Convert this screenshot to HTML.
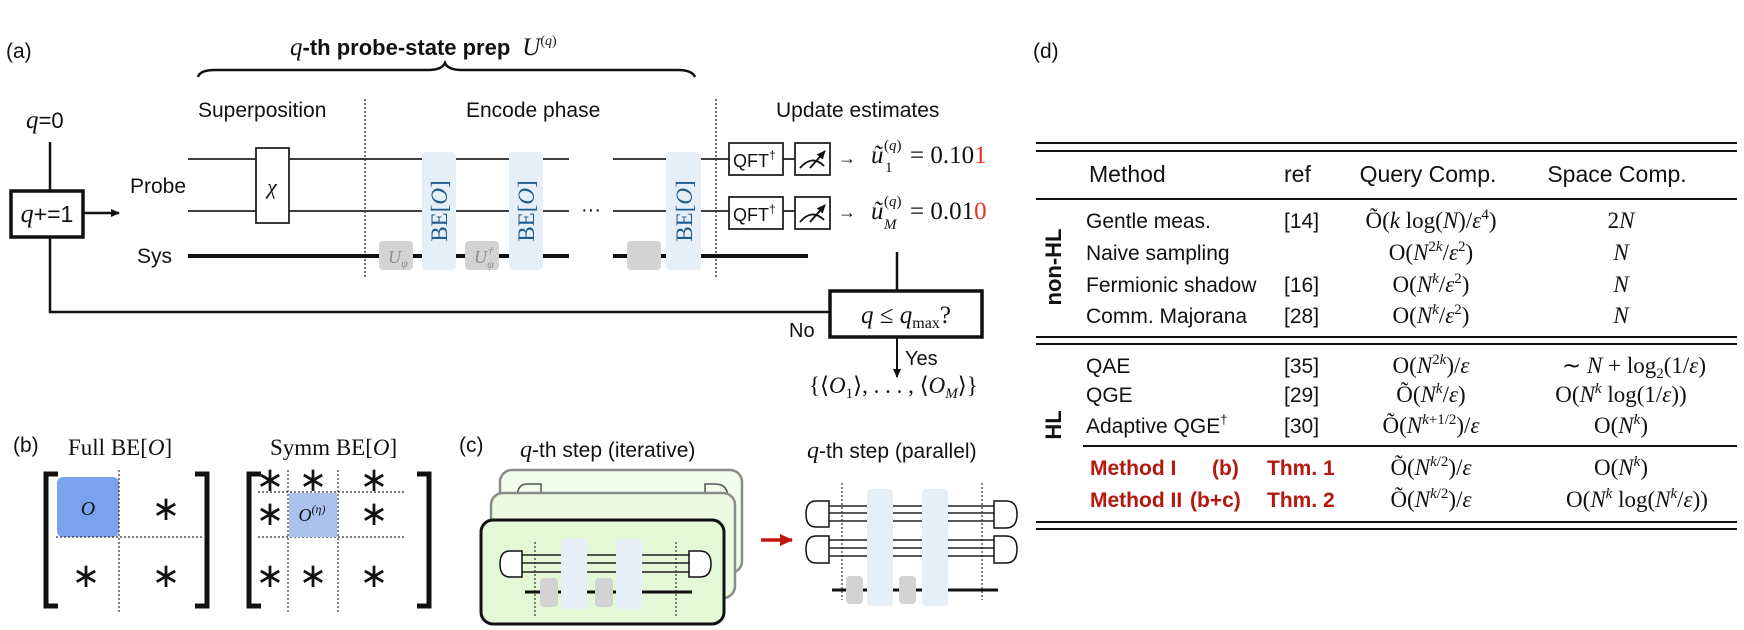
<!DOCTYPE html>
<html><head><meta charset="utf-8"><style>
html,body{margin:0;padding:0;background:#fff;}
svg{display:block;}
text{font-family:"Liberation Sans",sans-serif;fill:#111;}
.m{font-family:"Liberation Serif",serif;}
.i{font-style:italic;}
</style></head><body>
<svg width="1744" height="630" viewBox="0 0 1744 630" xmlns="http://www.w3.org/2000/svg">
<defs>
<marker id="ah" markerWidth="10" markerHeight="10" refX="8" refY="5" orient="auto" markerUnits="userSpaceOnUse"><path d="M0,1 L9,5 L0,9 Z" fill="#111"/></marker>
<marker id="ahr" markerWidth="14" markerHeight="12" refX="12" refY="6" orient="auto" markerUnits="userSpaceOnUse"><path d="M0,0 L13,6 L0,12 Z" fill="#c0190c"/></marker>
</defs>

<!-- ===== (a) ===== -->
<text x="6" y="58" font-size="21">(a)</text>
<text x="290" y="55" font-size="22"><tspan class="m i" font-size="25">q</tspan><tspan font-weight="bold">-th probe-state prep</tspan><tspan class="m i" font-size="25" dx="12">U</tspan><tspan class="m" font-size="14" dy="-10">(</tspan><tspan class="m i" font-size="14">q</tspan><tspan class="m" font-size="14">)</tspan></text>
<path d="M198,77 Q200,70 215,70 L428,70 Q442,70 445,63 Q448,70 462,70 L678,70 Q692,70 695,77" fill="none" stroke="#111" stroke-width="2.5"/>

<text x="198" y="117" font-size="21">Superposition</text>
<text x="466" y="117" font-size="21">Encode phase</text>
<text x="776" y="117" font-size="21">Update estimates</text>

<line x1="365" y1="99" x2="365" y2="277" stroke="#222" stroke-width="1.3" stroke-dasharray="2,2"/>
<line x1="716" y1="99" x2="716" y2="277" stroke="#222" stroke-width="1.3" stroke-dasharray="2,2"/>

<text x="26" y="128" font-size="22"><tspan class="m i" font-size="25">q</tspan>=0</text>
<line x1="50" y1="142" x2="50" y2="191" stroke="#111" stroke-width="2.5"/>
<rect x="11" y="191" width="72" height="46" fill="#fff" stroke="#111" stroke-width="3.5"/>
<text x="47" y="222" font-size="23" text-anchor="middle"><tspan class="m i" font-size="26">q</tspan>+=1</text>
<line x1="83" y1="213" x2="119" y2="213" stroke="#111" stroke-width="2.5" marker-end="url(#ah)"/>
<polyline points="50,237 50,312 830,312" fill="none" stroke="#111" stroke-width="2.5"/>

<text x="130" y="193" font-size="21">Probe</text>
<text x="137" y="263" font-size="21">Sys</text>

<g stroke="#222" stroke-width="1.8">
<line x1="188" y1="159" x2="569" y2="159"/><line x1="613" y1="159" x2="729" y2="159"/>
<line x1="188" y1="211" x2="569" y2="211"/><line x1="613" y1="211" x2="729" y2="211"/>
<line x1="783" y1="159" x2="795" y2="159"/><line x1="783" y1="211" x2="795" y2="211"/>
</g>
<g stroke="#111" stroke-width="4">
<line x1="188" y1="256" x2="569" y2="256"/><line x1="613" y1="256" x2="808" y2="256"/>
</g>
<text x="591" y="216" font-size="20" text-anchor="middle">···</text>

<rect x="256" y="148" width="33" height="75" fill="#fff" stroke="#222" stroke-width="1.8"/>
<text x="272" y="194" class="m i" font-size="22" text-anchor="middle">χ</text>

<g fill="#e6eef8">
<rect x="422" y="152" width="34" height="118" rx="4"/>
<rect x="509" y="152" width="34" height="118" rx="4"/>
<rect x="666" y="152" width="35" height="118" rx="4"/>
</g>
<g fill="#d3d3d3">
<rect x="379" y="241" width="34" height="29" rx="4"/>
<rect x="465" y="241" width="34" height="29" rx="4"/>
<rect x="627" y="241" width="34" height="29" rx="4"/>
</g>
<text x="388" y="263" class="m i" font-size="18" style="fill:#8a8a8a">U<tspan font-size="11" dy="4">ψ</tspan></text>
<text x="474" y="263" class="m i" font-size="18" style="fill:#8a8a8a">U<tspan font-size="11" dy="5">ψ</tspan><tspan font-size="11" dx="-6" dy="-14">†</tspan></text>
<text transform="translate(447,211) rotate(-90)" text-anchor="middle" class="m" font-size="23" style="fill:#1f5b8e">BE[<tspan class="i">O</tspan>]</text>
<text transform="translate(534,211) rotate(-90)" text-anchor="middle" class="m" font-size="23" style="fill:#1f5b8e">BE[<tspan class="i">O</tspan>]</text>
<text transform="translate(692,211) rotate(-90)" text-anchor="middle" class="m" font-size="23" style="fill:#1f5b8e">BE[<tspan class="i">O</tspan>]</text>

<g fill="#fff" stroke="#222" stroke-width="1.8">
<rect x="729" y="143" width="54" height="32"/><rect x="729" y="197" width="54" height="32"/>
<rect x="795" y="143" width="35" height="32"/><rect x="795" y="197" width="35" height="32"/>
</g>
<text x="733" y="167" font-size="18">QFT<tspan font-size="12" dy="-8">†</tspan></text>
<text x="733" y="221" font-size="18">QFT<tspan font-size="12" dy="-8">†</tspan></text>
<g fill="none" stroke="#111" stroke-width="1.8">
<path d="M800,168 Q812,154 824,166"/><line x1="810" y1="168" x2="825" y2="151" marker-end="url(#ah)"/>
<path d="M800,222 Q812,208 824,220"/><line x1="810" y1="222" x2="825" y2="205" marker-end="url(#ah)"/>
</g>
<text x="838" y="164" font-size="18">→</text>
<text x="838" y="218" font-size="18">→</text>
<text x="871" y="163" class="m i" font-size="25">ũ</text>
<text x="884" y="150" class="m" font-size="15">(<tspan class="i">q</tspan>)</text>
<text x="885" y="172" class="m" font-size="15">1</text>
<text x="910" y="163" class="m" font-size="25">= 0.10<tspan style="fill:#e8321e">1</tspan></text>
<text x="871" y="219" class="m i" font-size="25">ũ</text>
<text x="884" y="206" class="m" font-size="15">(<tspan class="i">q</tspan>)</text>
<text x="884" y="229" class="m i" font-size="15">M</text>
<text x="910" y="219" class="m" font-size="25">= 0.01<tspan style="fill:#e8321e">0</tspan></text>

<line x1="897" y1="252" x2="897" y2="291" stroke="#111" stroke-width="2.5"/>
<rect x="830" y="291" width="152" height="46" fill="#fff" stroke="#111" stroke-width="3.5"/>
<text x="906" y="323" class="m" font-size="25" text-anchor="middle"><tspan class="i">q</tspan> ≤ <tspan class="i">q</tspan><tspan font-size="16" dy="5">max</tspan><tspan dy="-5">?</tspan></text>
<text x="789" y="337" font-size="20">No</text>
<line x1="897" y1="337" x2="897" y2="377" stroke="#111" stroke-width="2" marker-end="url(#ah)"/>
<text x="905" y="365" font-size="20">Yes</text>
<text x="809" y="393" class="m" font-size="23">{⟨<tspan class="i">O</tspan><tspan font-size="15" dy="5">1</tspan><tspan dy="-5">⟩, . . . , ⟨</tspan><tspan class="i">O</tspan><tspan font-size="15" class="i" dy="5">M</tspan><tspan dy="-5">⟩}</tspan></text>

<!-- ===== (b) ===== -->
<text x="13" y="452" font-size="21">(b)</text>
<text x="68" y="455" class="m" font-size="23">Full BE[<tspan class="i">O</tspan>]</text>
<text x="270" y="455" class="m" font-size="23">Symm BE[<tspan class="i">O</tspan>]</text>
<g fill="none" stroke="#111" stroke-width="5">
<path d="M58,474 L46,474 L46,606 L58,606"/>
<path d="M195,474 L207,474 L207,606 L195,606"/>
<path d="M261,474 L249,474 L249,606 L261,606"/>
<path d="M417,474 L429,474 L429,606 L417,606"/>
</g>
<rect x="57" y="477" width="62" height="60" rx="6" fill="#7ba2ec"/>
<text x="88" y="515" class="m i" font-size="20" text-anchor="middle">O</text>
<g stroke="#333" stroke-width="1.2" stroke-dasharray="2,2">
<line x1="119" y1="470" x2="119" y2="613"/><line x1="56" y1="537" x2="202" y2="537"/>
<line x1="288" y1="470" x2="288" y2="613"/><line x1="338" y1="470" x2="338" y2="613"/>
<line x1="258" y1="492" x2="405" y2="492"/><line x1="258" y1="537" x2="405" y2="537"/>
</g>
<rect x="289" y="493" width="48" height="44" fill="#aac3ee"/>
<text x="312" y="521" class="m i" font-size="18" text-anchor="middle">O<tspan font-size="12" dy="-8">(η)</tspan></text>
<g font-size="34" text-anchor="middle">
<text x="166" y="520" class="m">∗</text><text x="86" y="587" class="m">∗</text><text x="166" y="587" class="m">∗</text>
<text x="270" y="491" class="m">∗</text><text x="313" y="491" class="m">∗</text><text x="374" y="491" class="m">∗</text>
<text x="270" y="525" class="m">∗</text><text x="374" y="525" class="m">∗</text>
<text x="270" y="587" class="m">∗</text><text x="313" y="587" class="m">∗</text><text x="374" y="587" class="m">∗</text>
</g>

<!-- ===== (c) ===== -->
<text x="459" y="452" font-size="21">(c)</text>
<text x="520" y="457" font-size="21"><tspan class="m i" font-size="24">q</tspan>-th step (iterative)</text>
<rect x="500" y="470" width="242" height="103" rx="12" fill="#f1fcea" stroke="#8a8a8a" stroke-width="2.5"/>
<path d="M541,484 L527,484 Q517,484 517,498 Q517,512 527,512 L541,512 Z" fill="none" stroke="#555" stroke-width="1.5"/>
<path d="M705,484 L715,484 Q728,484 728,498 Q728,512 715,512 L705,512 Z" fill="none" stroke="#555" stroke-width="1.5"/>
<rect x="491" y="493" width="244" height="105" rx="12" fill="#ebfae0" stroke="#8a8a8a" stroke-width="2.5"/>
<rect x="481" y="520" width="243" height="104" rx="12" fill="#e3f8d6" stroke="#111" stroke-width="3"/>
<g stroke="#333" stroke-width="1.2" stroke-dasharray="2,2"><line x1="535" y1="542" x2="535" y2="617"/><line x1="676" y1="542" x2="676" y2="617"/></g>
<g stroke="#222" stroke-width="1.6"><line x1="522" y1="555" x2="689" y2="555"/><line x1="522" y1="563" x2="689" y2="563"/><line x1="522" y1="572" x2="689" y2="572"/></g>
<line x1="525" y1="592" x2="692" y2="592" stroke="#111" stroke-width="3"/>
<rect x="561" y="539" width="26" height="70" rx="4" fill="#e6eef8"/><rect x="616" y="539" width="26" height="70" rx="4" fill="#e6eef8"/>
<rect x="540" y="578" width="18" height="29" rx="4" fill="#d3d3d3"/><rect x="595" y="578" width="18" height="29" rx="4" fill="#d3d3d3"/>
<path d="M522,551 L510,551 Q500,551 500,564 Q500,577 510,577 L522,577 Z" fill="#fff" stroke="#111" stroke-width="1.5"/>
<path d="M689,551 L700,551 Q711,551 711,564 Q711,577 700,577 L689,577 Z" fill="#fff" stroke="#111" stroke-width="1.5"/>

<line x1="761" y1="540" x2="792" y2="540" stroke="#c0190c" stroke-width="3.5" marker-end="url(#ahr)"/>

<text x="807" y="458" font-size="21"><tspan class="m i" font-size="24">q</tspan>-th step (parallel)</text>
<g stroke="#333" stroke-width="1.2" stroke-dasharray="2,2"><line x1="842" y1="483" x2="842" y2="600"/><line x1="982" y1="483" x2="982" y2="600"/></g>
<g stroke="#222" stroke-width="1.6">
<line x1="829" y1="506" x2="994" y2="506"/><line x1="829" y1="513" x2="994" y2="513"/><line x1="829" y1="521" x2="994" y2="521"/>
<line x1="829" y1="540" x2="994" y2="540"/><line x1="829" y1="548" x2="994" y2="548"/><line x1="829" y1="556" x2="994" y2="556"/>
</g>
<line x1="832" y1="590" x2="998" y2="590" stroke="#111" stroke-width="3"/>
<rect x="867" y="489" width="26" height="117" rx="4" fill="#e6eef8"/><rect x="922" y="489" width="26" height="117" rx="4" fill="#e6eef8"/>
<rect x="846" y="576" width="17" height="28" rx="4" fill="#d3d3d3"/><rect x="899" y="576" width="17" height="28" rx="4" fill="#d3d3d3"/>
<g fill="#fff" stroke="#111" stroke-width="1.5">
<path d="M829,501 L816,501 Q806,501 806,514 Q806,527 816,527 L829,527 Z"/>
<path d="M829,536 L816,536 Q806,536 806,549 Q806,563 816,563 L829,563 Z"/>
<path d="M994,501 L1006,501 Q1017,501 1017,514 Q1017,528 1006,528 L994,528 Z"/>
<path d="M994,536 L1006,536 Q1017,536 1017,549 Q1017,563 1006,563 L994,563 Z"/>
</g>

<!-- ===== (d) table ===== -->
<text x="1033" y="58" font-size="21">(d)</text>
<g stroke="#111" stroke-width="2">
<line x1="1036" y1="143" x2="1737" y2="143"/><line x1="1036" y1="151" x2="1737" y2="151"/>
<line x1="1036" y1="199" x2="1737" y2="199"/>
<line x1="1036" y1="337" x2="1737" y2="337"/><line x1="1036" y1="344" x2="1737" y2="344"/>
<line x1="1083" y1="446" x2="1737" y2="446"/>
<line x1="1036" y1="522" x2="1737" y2="522"/><line x1="1036" y1="529" x2="1737" y2="529"/>
</g>
<g font-size="23">
<text x="1089" y="182">Method</text><text x="1284" y="182">ref</text>
<text x="1428" y="182" text-anchor="middle">Query Comp.</text><text x="1617" y="182" text-anchor="middle">Space Comp.</text>
</g>
<text transform="translate(1061,267) rotate(-90)" font-size="22" font-weight="bold" text-anchor="middle">non-HL</text>
<text transform="translate(1061,425) rotate(-90)" font-size="22" font-weight="bold" text-anchor="middle">HL</text>
<g font-size="21">
<text x="1086" y="228">Gentle meas.</text><text x="1284" y="228">[14]</text>
<text x="1086" y="260">Naive sampling</text>
<text x="1086" y="292">Fermionic shadow</text><text x="1284" y="292">[16]</text>
<text x="1086" y="323">Comm. Majorana</text><text x="1284" y="323">[28]</text>
<text x="1086" y="373">QAE</text><text x="1284" y="373">[35]</text>
<text x="1086" y="402">QGE</text><text x="1284" y="402">[29]</text>
<text x="1086" y="433">Adaptive QGE<tspan font-size="13" dy="-9">†</tspan></text><text x="1284" y="433">[30]</text>
</g>
<g font-size="21" font-weight="bold">
<text x="1090" y="475" style="fill:#b5180f">Method I</text><text x="1212" y="475" style="fill:#b5180f">(b)</text><text x="1267" y="475" style="fill:#b5180f">Thm. 1</text>
<text x="1090" y="507" style="fill:#b5180f">Method II</text><text x="1190" y="507" style="fill:#b5180f">(b+c)</text><text x="1267" y="507" style="fill:#b5180f">Thm. 2</text>
</g>
<g font-size="23" text-anchor="middle">
<text x="1431" y="228" class="m">Õ(<tspan class="i">k</tspan> log(<tspan class="i">N</tspan>)/<tspan class="i">ε</tspan><tspan font-size="15" dy="-9">4</tspan><tspan dy="9">)</tspan></text>
<text x="1431" y="260" class="m">O(<tspan class="i">N</tspan><tspan font-size="15" dy="-9">2<tspan class="i">k</tspan></tspan><tspan dy="9">/</tspan><tspan class="i">ε</tspan><tspan font-size="15" dy="-9">2</tspan><tspan dy="9">)</tspan></text>
<text x="1431" y="292" class="m">O(<tspan class="i">N</tspan><tspan font-size="15" class="i" dy="-9">k</tspan><tspan dy="9">/</tspan><tspan class="i">ε</tspan><tspan font-size="15" dy="-9">2</tspan><tspan dy="9">)</tspan></text>
<text x="1431" y="323" class="m">O(<tspan class="i">N</tspan><tspan font-size="15" class="i" dy="-9">k</tspan><tspan dy="9">/</tspan><tspan class="i">ε</tspan><tspan font-size="15" dy="-9">2</tspan><tspan dy="9">)</tspan></text>
<text x="1431" y="373" class="m">O(<tspan class="i">N</tspan><tspan font-size="15" dy="-9">2<tspan class="i">k</tspan></tspan><tspan dy="9">)/</tspan><tspan class="i">ε</tspan></text>
<text x="1431" y="402" class="m">Õ(<tspan class="i">N</tspan><tspan font-size="15" class="i" dy="-9">k</tspan><tspan dy="9">/</tspan><tspan class="i">ε</tspan>)</text>
<text x="1431" y="433" class="m">Õ(<tspan class="i">N</tspan><tspan font-size="15" dy="-9"><tspan class="i">k</tspan>+1/2</tspan><tspan dy="9">)/</tspan><tspan class="i">ε</tspan></text>
<text x="1431" y="475" class="m">Õ(<tspan class="i">N</tspan><tspan font-size="15" dy="-9"><tspan class="i">k</tspan>/2</tspan><tspan dy="9">)/</tspan><tspan class="i">ε</tspan></text>
<text x="1431" y="507" class="m">Õ(<tspan class="i">N</tspan><tspan font-size="15" dy="-9"><tspan class="i">k</tspan>/2</tspan><tspan dy="9">)/</tspan><tspan class="i">ε</tspan></text>

<text x="1621" y="228" class="m">2<tspan class="i">N</tspan></text>
<text x="1621" y="260" class="m i">N</text>
<text x="1621" y="292" class="m i">N</text>
<text x="1621" y="323" class="m i">N</text>
<text x="1634" y="373" class="m">∼ <tspan class="i">N</tspan> + log<tspan font-size="15" dy="5">2</tspan><tspan dy="-5">(1/</tspan><tspan class="i">ε</tspan>)</text>
<text x="1621" y="402" class="m">O(<tspan class="i">N</tspan><tspan font-size="15" class="i" dy="-9">k</tspan><tspan dy="9"> log(1/</tspan><tspan class="i">ε</tspan>))</text>
<text x="1621" y="433" class="m">O(<tspan class="i">N</tspan><tspan font-size="15" class="i" dy="-9">k</tspan><tspan dy="9">)</tspan></text>
<text x="1621" y="475" class="m">O(<tspan class="i">N</tspan><tspan font-size="15" class="i" dy="-9">k</tspan><tspan dy="9">)</tspan></text>
<text x="1637" y="507" class="m">O(<tspan class="i">N</tspan><tspan font-size="15" class="i" dy="-9">k</tspan><tspan dy="9"> log(</tspan><tspan class="i">N</tspan><tspan font-size="15" class="i" dy="-9">k</tspan><tspan dy="9">/</tspan><tspan class="i">ε</tspan>))</text>
</g>
</svg>
</body></html>
